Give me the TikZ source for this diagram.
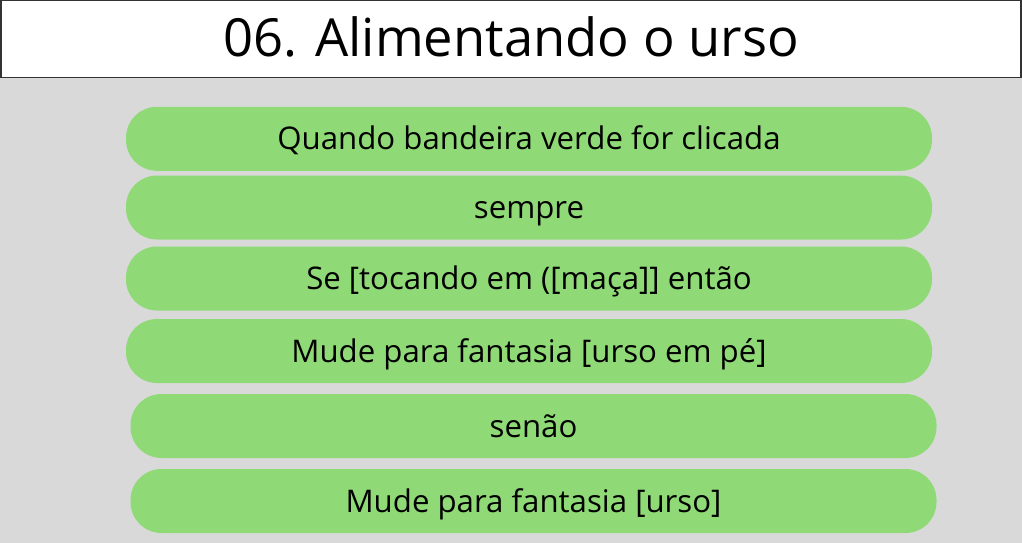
\documentclass[tikz,border=0pt]{standalone}
\usepackage{fontspec}
\setmainfont{Open Sans}
\definecolor{pillgreen}{RGB}{143,217,118}
\definecolor{bggray}{RGB}{217,217,217}
\definecolor{frame}{RGB}{51,51,51}
\begin{document}
\begin{tikzpicture}[x=1pt,y=-1pt,
  pill/.style={fill=pillgreen, draw=none, rounded corners=31pt, minimum width=806pt, minimum height=64pt, inner sep=0pt, text height=22.3pt, text depth=0pt, font=\fontsize{31.2}{33}\selectfont, text=black},
  titlebox/.style={draw=frame, line width=1.5pt, fill=white, minimum width=1020pt, minimum height=77pt, inner sep=0pt},
  titletextstyle/.style={inner sep=0pt, text height=37.5pt, text depth=0pt, font=\fontsize{52.5}{56}\selectfont}]
\useasboundingbox (0,0) rectangle (1022,543);
\fill[bggray] (0,0) rectangle (1022,543);
\node[titlebox] (title) at (511,39) {};
\node[titletextstyle] (titletext) at (511,38) {06. Alimentando o urso};
\node[pill] (p1) at (529,138.8) {Quando bandeira verde for clicada};
\node[pill] (p2) at (529,207.5) {sempre};
\node[pill] (p3) at (529,278.5) {Se [tocando em ([maça]] então};
\node[pill] (p4) at (529,351) {Mude para fantasia [urso em pé]};
\node[pill] (p5) at (533.5,426) {senão};
\node[pill] (p6) at (533.5,501) {Mude para fantasia [urso]};
\end{tikzpicture}
\end{document}
